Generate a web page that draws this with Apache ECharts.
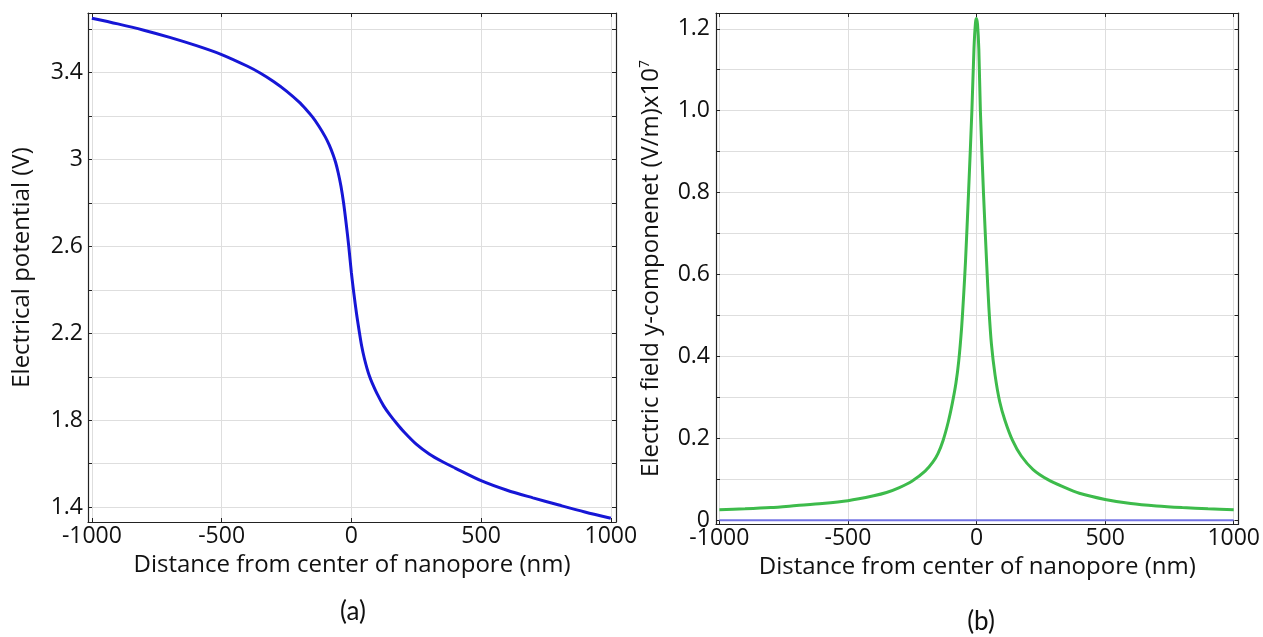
<!DOCTYPE html>
<html><head><meta charset="utf-8">
<script src="https://cdn.jsdelivr.net/npm/echarts@6/dist/echarts.min.js"></script>
<style>html,body{margin:0;padding:0;background:#fff}#c{width:1263px;height:637px}</style>
</head><body><div id="c"></div>
<script>
// ---- data ----
const potX = [-1000,-900,-800,-700,-600,-500,-400,-350,-300,-250,-200,-175,-150,-125,-100,-85,-70,-60,-50,-40,-30,-20,-10,0,10,20,30,40,50,60,70,80,100,125,150,175,200,250,300,350,400,500,600,700,800,900,1000];
const potV = [3.649,3.623,3.594,3.561,3.524,3.482,3.428,3.396,3.358,3.314,3.262,3.230,3.195,3.152,3.102,3.065,3.020,2.983,2.935,2.876,2.800,2.705,2.600,2.48,2.38,2.29,2.212,2.14,2.085,2.04,2.002,1.972,1.920,1.865,1.822,1.785,1.750,1.690,1.645,1.610,1.580,1.522,1.478,1.443,1.410,1.378,1.349];

const fieldX = [-1000,-900,-800,-700,-600,-500,-400,-350,-300,-250,-200,-170,-150,-130,-110,-94,-80,-69,-58,-50,-43,-31,-18,-10,-4,0,4,9,15,27,40,48,58,72,90,110,140,174,220,276,340,400,500,600,700,800,900,1000];
const fieldE = [0.026,0.028,0.031,0.036,0.041,0.048,0.060,0.068,0.080,0.096,0.120,0.142,0.163,0.195,0.24,0.286,0.335,0.39,0.47,0.55,0.63,0.80,1.0,1.15,1.215,1.225,1.21,1.15,1.0,0.80,0.62,0.52,0.43,0.355,0.29,0.245,0.195,0.157,0.124,0.100,0.081,0.066,0.051,0.041,0.035,0.031,0.028,0.026];

const baseX = [-1000, 1000];
const baseE = [0, 0];

const distTicks = [-1000, -500, 0, 500, 1000];
const potTicks = [1.4, 1.6, 1.8, 2.0, 2.2, 2.4, 2.6, 2.8, 3.0, 3.2, 3.4, 3.6];
const potLabels = [1.4, 1.8, 2.2, 2.6, 3.0, 3.4];
const fieldTicks = [0, 0.1, 0.2, 0.3, 0.4, 0.5, 0.6, 0.7, 0.8, 0.9, 1.0, 1.1, 1.2];
const fieldLabels = [0, 0.2, 0.4, 0.6, 0.8, 1.0, 1.2];

const xTitle = 'Distance from center of nanopore (nm)';
const yTitleA = 'Electrical potential (V)';
const yTitleB = 'Electric field y-componenet (V/m)x10{sup|7}';
const panelA = '(a)';
const panelB = '(b)';

// ---- chart ----
const FONT = 'Open Sans';
const AX = '#222';
const GRIDC = '#dedede';
const TXT = '#111';
const zip = (a, b) => a.map((v, i) => [v, b[i]]);

function mainX(gi, min, max) {
  return {
    type: 'value', gridIndex: gi, position: 'bottom', min, max,
    axisLine: { show: true, onZero: false, lineStyle: { color: AX, width: 1.2 } },
    axisTick: { show: true, inside: true, length: 4, customValues: distTicks, lineStyle: { color: AX } },
    axisLabel: { customValues: distTicks, margin: 3, color: TXT, fontFamily: FONT, fontSize: 23,
      formatter: v => String(Math.round(v)) },
    splitLine: { show: true, lineStyle: { color: GRIDC, width: 1 } },
    name: xTitle, nameLocation: 'middle', nameGap: 31,
    nameTextStyle: { color: TXT, fontFamily: FONT, fontSize: 24 }
  };
}
function topX(gi, min, max) {
  return {
    type: 'value', gridIndex: gi, position: 'top', min, max,
    axisLine: { show: true, onZero: false, lineStyle: { color: AX, width: 1.2 } },
    axisTick: { show: true, inside: true, length: 4, customValues: distTicks, lineStyle: { color: AX } },
    axisLabel: { show: false }, splitLine: { show: false }
  };
}
function sideY(gi, min, max, ticks) {
  return {
    type: 'value', gridIndex: gi, position: 'right', min, max,
    axisLine: { show: true, onZero: false, lineStyle: { color: AX, width: 1.2 } },
    axisTick: { show: true, inside: true, length: 4, customValues: ticks, lineStyle: { color: AX } },
    axisLabel: { show: false }, splitLine: { show: false }
  };
}

const option = {
  animation: false,
  backgroundColor: '#fff',
  grid: [
    { left: 88, top: 13, width: 528, height: 509 },
    { left: 716, top: 13, width: 531, height: 511 }
  ],
  xAxis: [
    mainX(0, -1015, 1020), topX(0, -1015, 1020),
    mainX(1, -1013, 1019), topX(1, -1013, 1019)
  ],
  yAxis: [
    {
      type: 'value', gridIndex: 0, position: 'left', min: 1.332, max: 3.673,
      axisLine: { show: true, onZero: false, lineStyle: { color: AX, width: 1.2 } },
      axisTick: { show: true, inside: true, length: 4, customValues: potTicks, lineStyle: { color: AX } },
      axisLabel: { customValues: potLabels, margin: 5, color: TXT, fontFamily: FONT, fontSize: 23,
        formatter: v => String(+(+v).toFixed(1)) },
      splitLine: { show: true, lineStyle: { color: GRIDC, width: 1 } },
      name: yTitleA, nameLocation: 'middle', nameGap: 54,
      nameTextStyle: { color: TXT, fontFamily: FONT, fontSize: 24 }
    },
    sideY(0, 1.332, 3.673, potTicks),
    {
      type: 'value', gridIndex: 1, position: 'left', min: -0.009, max: 1.2385,
      axisLine: { show: true, onZero: false, lineStyle: { color: AX, width: 1.2 } },
      axisTick: { show: true, inside: true, length: 4, customValues: fieldTicks, lineStyle: { color: AX } },
      axisLabel: { customValues: fieldLabels, margin: 6, color: TXT, fontFamily: FONT, fontSize: 23,
        formatter: v => (Math.abs(v) < 1e-9 ? '0' : (+v).toFixed(1)) },
      splitLine: { show: true, lineStyle: { color: GRIDC, width: 1 } },
      name: yTitleB, nameLocation: 'middle', nameGap: 52,
      nameTextStyle: { color: TXT, fontFamily: FONT, fontSize: 24,
        rich: { sup: { fontSize: 14, fontFamily: FONT, color: TXT, verticalAlign: 'top', padding: [0, 0, 12, 0] } } }
    },
    sideY(1, -0.009, 1.2385, fieldTicks)
  ],
  series: [
    { type: 'line', xAxisIndex: 0, yAxisIndex: 0, data: zip(potX, potV), smooth: 0.3, showSymbol: false,
      lineStyle: { color: '#1616d6', width: 3 }, z: 5 },
    { type: 'line', xAxisIndex: 2, yAxisIndex: 2, data: zip(baseX, baseE), showSymbol: false,
      lineStyle: { color: '#7474e4', width: 2 }, z: 4 },
    { type: 'line', xAxisIndex: 2, yAxisIndex: 2, data: zip(fieldX, fieldE), smooth: 0.25, showSymbol: false,
      lineStyle: { color: '#3dbb4b', width: 3 }, z: 5 }
  ],
  graphic: [
    { type: 'text', x: 353, y: 612, style: { text: panelA, font: '26px Lato', fill: TXT, align: 'center', verticalAlign: 'middle' } },
    { type: 'text', x: 981, y: 622, style: { text: panelB, font: '26px Lato', fill: TXT, align: 'center', verticalAlign: 'middle' } }
  ]
};

const chart = echarts.init(document.getElementById('c'), null, { renderer: 'canvas' });
chart.setOption(option);
</script>
</body></html>
